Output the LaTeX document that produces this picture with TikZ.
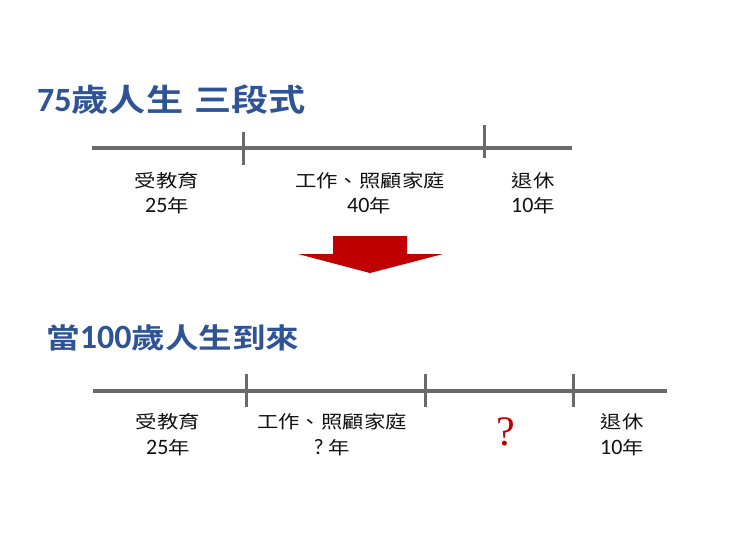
\documentclass[tikz,border=0pt]{standalone}
\usepackage{fontspec}
\newfontfamily\cjk[FakeStretch=1.2]{Noto Sans CJK TC}
\newfontfamily\cjkb[FakeStretch=1.2]{Noto Sans CJK TC Bold}
\newfontfamily\lat{Carlito}
\newfontfamily\qfont{Liberation Serif}
\definecolor{titleblue}{HTML}{2F5496}
\definecolor{axisgray}{HTML}{6A6A6A}
\definecolor{arrowred}{HTML}{C00000}
\definecolor{txt}{HTML}{111111}
\newcommand{\tdig}[1]{{\fontsize{34}{34}\lat\bfseries #1}}
\newcommand{\bdig}[1]{{\fontsize{22}{22}\lat #1}}
\begin{document}
\begin{tikzpicture}[x=1pt,y=-1pt,
  axisline/.style={draw=axisgray,line width=4pt},
  tickline/.style={draw=axisgray,line width=3pt},
  lbl/.style={inner sep=0pt,font=\fontsize{17.8}{20}\cjk,text=txt},
  yrs/.style={lbl,anchor=base},
  ttl/.style={inner sep=0pt,anchor=base west,font=\fontsize{28}{32}\cjkb,text=titleblue}]
\useasboundingbox (0,0) rectangle (740,550);
\fill[white] (0,0) rectangle (740,550);

% titles
\node[ttl,font=\fontsize{31}{32}\cjkb] (title1) at (37,111) {\tdig{75}歲人生\hspace{11pt}三段式};
\node[ttl] (title2) at (46,348) {當\tdig{100}歲人生到來};

% top timeline
\coordinate (a0) at (92,148);
\coordinate (a1) at (572,148);
\coordinate (ta1) at (243,132);
\coordinate (tb1) at (243,165);
\coordinate (ta2) at (484,125);
\coordinate (tb2) at (484,158);
\draw[axisline] (a0) -- (a1);
\draw[tickline] (ta1) -- (tb1);
\draw[tickline] (ta2) -- (tb2);

\node[lbl] (edu1) at (167,181) {受教育};
\node[yrs] (edu1y) at (167,212) {\bdig{25}年};
\node[lbl] (work1) at (370,181) {工作、照顧家庭};
\node[yrs] (work1y) at (369,212) {\bdig{40}年};
\node[lbl] (ret1) at (533,181) {退休};
\node[yrs] (ret1y) at (533,212) {\bdig{10}年};

% arrow
\fill[arrowred] (333,236) -- (407,236) -- (407,254) -- (443,254) -- (370,273) -- (298,254) -- (333,254) -- cycle;

% bottom timeline
\coordinate (b0) at (93,391);
\coordinate (b1) at (667,391);
\coordinate (sa1) at (246,374);
\coordinate (sb1) at (246,407);
\coordinate (sa2) at (425,374);
\coordinate (sb2) at (425,407);
\coordinate (sa3) at (573,374);
\coordinate (sb3) at (573,407);
\draw[axisline] (b0) -- (b1);
\draw[tickline] (sa1) -- (sb1);
\draw[tickline] (sa2) -- (sb2);
\draw[tickline] (sa3) -- (sb3);

\node[lbl] (edu2) at (168,422) {受教育};
\node[yrs] (edu2y) at (168,454) {\bdig{25}年};
\node[lbl] (work2) at (332,422) {工作、照顧家庭};
\node[yrs] (work2y) at (332,454) {\bdig{?}\hspace{5pt}年};
\node[inner sep=0pt,text=arrowred,font=\fontsize{42}{42}\qfont] (q) at (506,432) {?};
\node[lbl] (ret2) at (622,422) {退休};
\node[yrs] (ret2y) at (622,454) {\bdig{10}年};
\end{tikzpicture}
\end{document}
